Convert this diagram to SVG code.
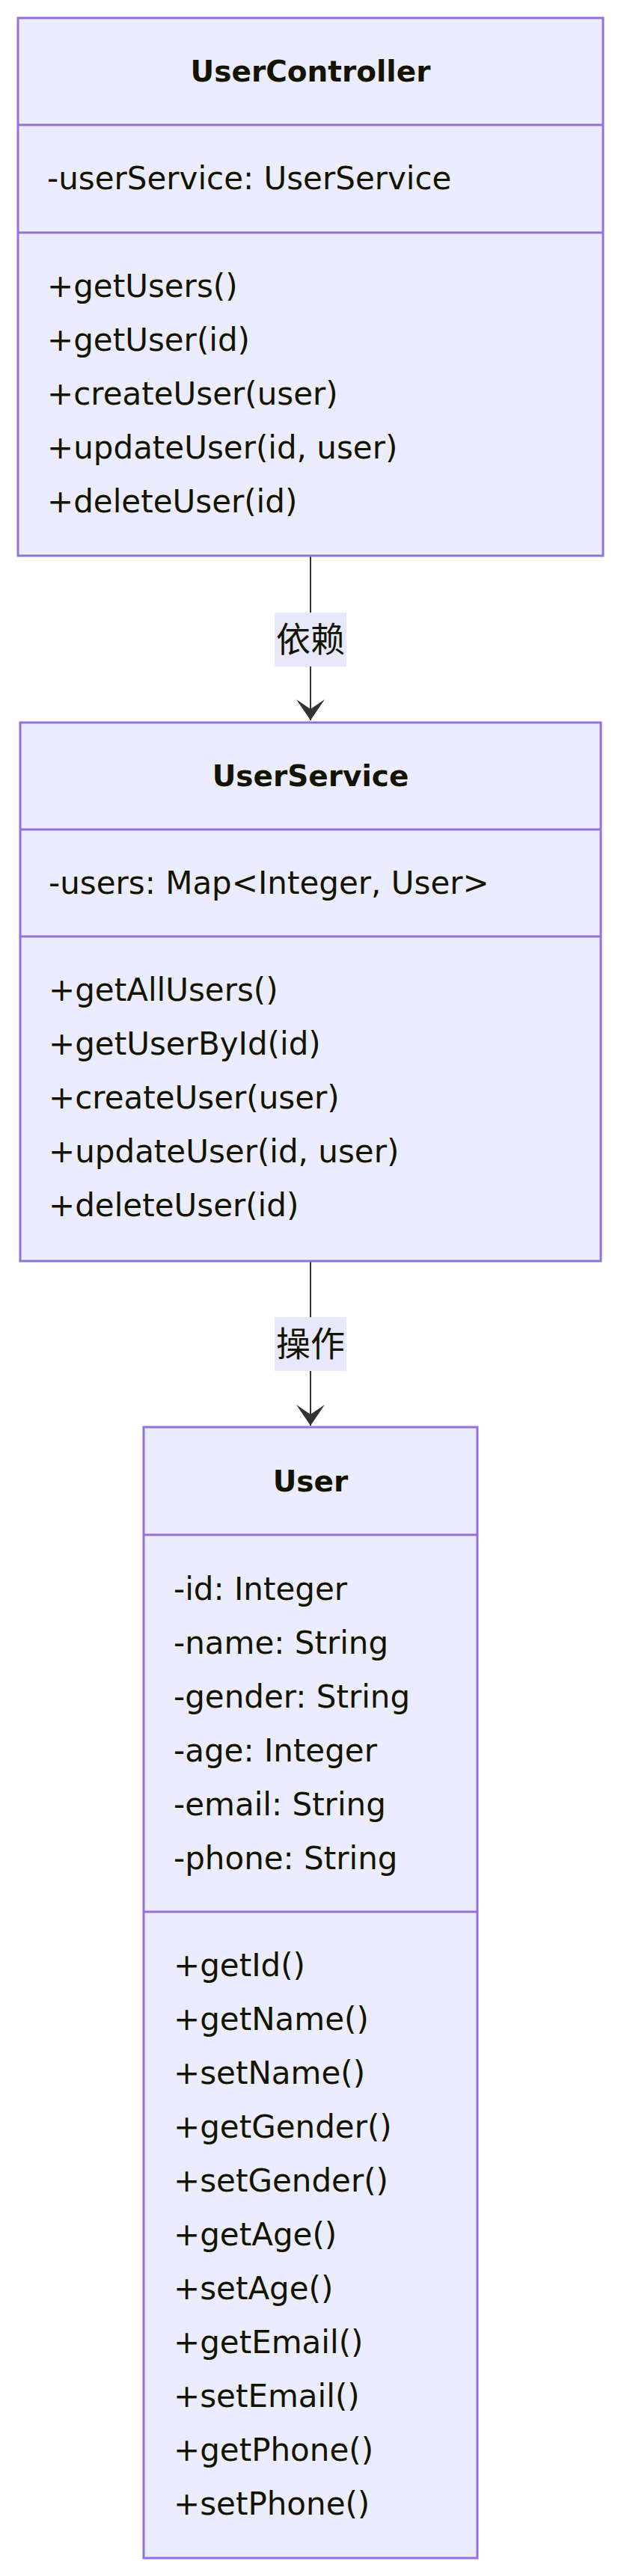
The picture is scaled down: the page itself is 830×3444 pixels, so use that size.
<svg xmlns="http://www.w3.org/2000/svg" width="830" height="3444" viewBox="0 0 830 3444">
<style>
.box{fill:#ECECFF;stroke:#9370DB;stroke-width:3}
.div{stroke:#9370DB;stroke-width:3}
.t{font-family:"DejaVu Sans","Liberation Sans",sans-serif;font-size:42px;fill:#131300}
.title{font-family:"DejaVu Sans","Liberation Sans",sans-serif;font-size:39px;font-weight:bold;fill:#131300;text-anchor:middle}
.edge{stroke:#333333;stroke-width:2;fill:none}
.lblbg{fill:#E8E8FD}
.lbl{font-family:"Noto Sans CJK SC","DejaVu Sans",sans-serif;font-size:46px;fill:#131300;text-anchor:middle}
</style>
<defs>
<marker id="dep" viewBox="0 0 30 38" refX="28" refY="19" markerWidth="30" markerHeight="38" markerUnits="userSpaceOnUse" orient="auto">
<path d="M0,0 L28,19 L0,38 L13,19 Z" fill="#333333"/>
</marker>
</defs>
<rect width="830" height="3444" fill="#ffffff"/>
<g id="connectors">
<line class="edge" x1="415" y1="743" x2="415" y2="963" marker-end="url(#dep)"/>
<rect class="lblbg" x="367" y="819" width="96" height="72"/>
<text class="lbl" x="415" y="871">依赖</text>
<line class="edge" x1="415" y1="1686" x2="415" y2="1906" marker-end="url(#dep)"/>
<rect class="lblbg" x="367" y="1761" width="96" height="72"/>
<text class="lbl" x="415" y="1813">操作</text>
</g>
<g id="UserController">
<rect class="box" x="24" y="24" width="782" height="719"/>
<line class="div" x1="24" y1="167" x2="806" y2="167"/>
<line class="div" x1="24" y1="311" x2="806" y2="311"/>
<text class="title" x="415" y="109">UserController</text>
<text class="t" x="63" y="253">-userService: UserService</text>
<text class="t" x="63" y="397">+getUsers()</text>
<text class="t" x="63" y="469">+getUser(id)</text>
<text class="t" x="63" y="541">+createUser(user)</text>
<text class="t" x="63" y="613">+updateUser(id, user)</text>
<text class="t" x="63" y="685">+deleteUser(id)</text>
</g>
<g id="UserService">
<rect class="box" x="27" y="966" width="776" height="720"/>
<line class="div" x1="27" y1="1109" x2="803" y2="1109"/>
<line class="div" x1="27" y1="1252" x2="803" y2="1252"/>
<text class="title" x="415" y="1051">UserService</text>
<text class="t" x="65" y="1195">-users: Map&lt;Integer, User&gt;</text>
<text class="t" x="65" y="1338">+getAllUsers()</text>
<text class="t" x="65" y="1410">+getUserById(id)</text>
<text class="t" x="65" y="1482">+createUser(user)</text>
<text class="t" x="65" y="1554">+updateUser(id, user)</text>
<text class="t" x="65" y="1626">+deleteUser(id)</text>
</g>
<g id="User">
<rect class="box" x="192" y="1908" width="446" height="1512"/>
<line class="div" x1="192" y1="2052" x2="638" y2="2052"/>
<line class="div" x1="192" y1="2556" x2="638" y2="2556"/>
<text class="title" x="415" y="1994">User</text>
<text class="t" x="232" y="2139">-id: Integer</text>
<text class="t" x="232" y="2211">-name: String</text>
<text class="t" x="232" y="2283">-gender: String</text>
<text class="t" x="232" y="2355">-age: Integer</text>
<text class="t" x="232" y="2427">-email: String</text>
<text class="t" x="232" y="2499">-phone: String</text>
<text class="t" x="232" y="2642">+getId()</text>
<text class="t" x="232" y="2714">+getName()</text>
<text class="t" x="232" y="2786">+setName()</text>
<text class="t" x="232" y="2858">+getGender()</text>
<text class="t" x="232" y="2930">+setGender()</text>
<text class="t" x="232" y="3002">+getAge()</text>
<text class="t" x="232" y="3074">+setAge()</text>
<text class="t" x="232" y="3146">+getEmail()</text>
<text class="t" x="232" y="3218">+setEmail()</text>
<text class="t" x="232" y="3290">+getPhone()</text>
<text class="t" x="232" y="3362">+setPhone()</text>
</g>
</svg>
